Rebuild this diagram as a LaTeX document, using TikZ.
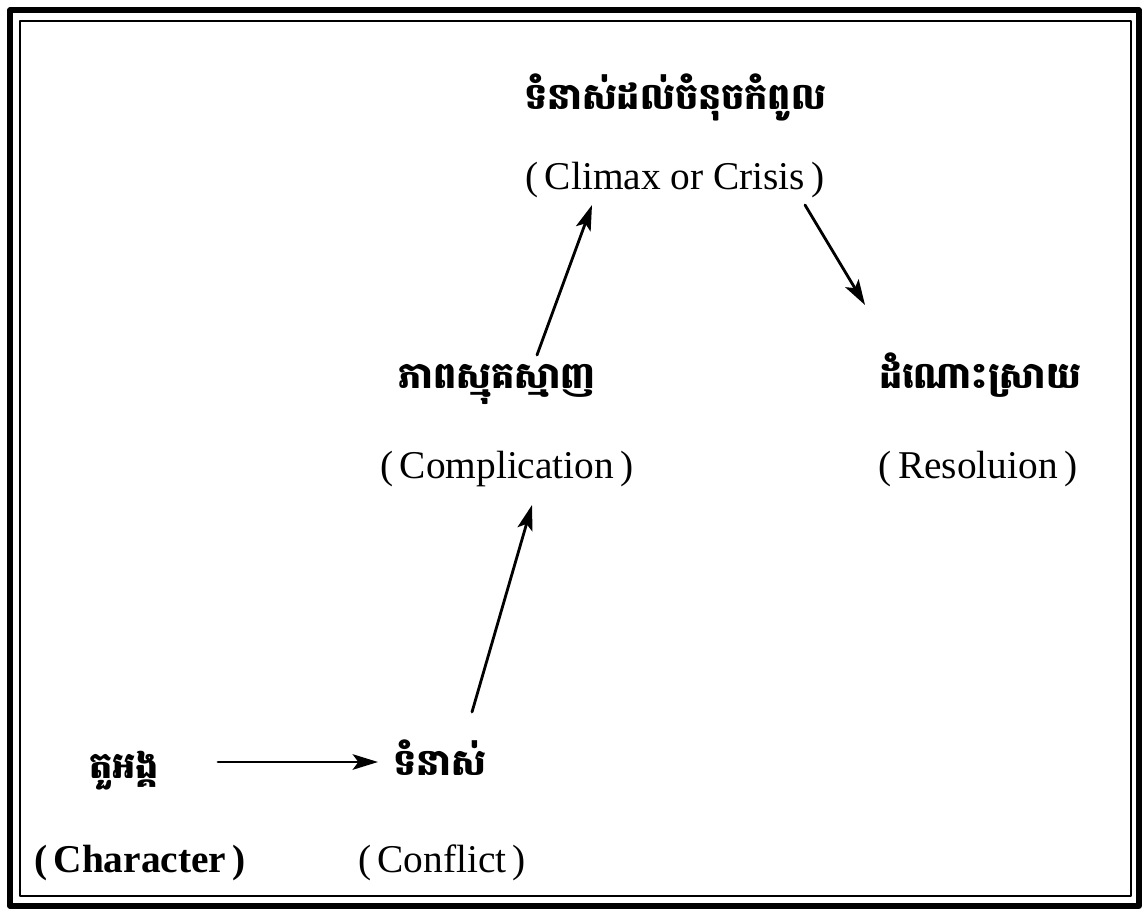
\documentclass[tikz,border=0pt]{standalone}
\usepackage{fontspec}
\setmainfont{Liberation Serif}
\newfontfamily\khmerfont[Script=Khmer]{Battambang}
\usetikzlibrary{arrows.meta}
\newcommand{\paren}[1]{\kern-.1em(\kern.16em#1\kern.16em)\kern-.1em}
\begin{document}
\begin{tikzpicture}[x=0.025cm,y=-0.025cm,line join=round,line cap=round,
	kh/.style={font=\khmerfont\bfseries\fontsize{26}{30}\selectfont,anchor=base},
	en/.style={font=\fontsize{28}{32}\selectfont,anchor=base},
	arr/.style={line width=2pt,-{Stealth[length=18pt,width=11pt,inset=4pt]}}]
		%khung doi
		\useasboundingbox (0,0) rectangle (1142,912);
		\draw[line width=3.6pt](10,10)rectangle(1139,906);
		\draw[line width=1.4pt](20,21)rectangle(1131,896);
		\node[kh](climaxkh) at (675,110){ទំនាស់ដល់ចំនុចកំពូល};
		\node[en](climaxen) at (675,190){\paren{Climax or Crisis}};
		\node[kh](compkh) at (497,388){ភាពស្មុគស្មាញ};
		\node[en](compen) at (507,478){\paren{Complication}};
		\node[kh](reskh) at (980,388){ដំណោះស្រាយ};
		\node[en](resen) at (978,478){\paren{Resoluion}};
		\node[kh](charkh) at (124,778){តួអង្គ};
		\node[en,font=\bfseries\fontsize{28}{32}\selectfont](charen) at (140,872){\paren{Character}};
		\node[kh](confkh) at (440,775){ទំនាស់};
		\node[en](confen) at (442,872){\paren{Conflict}};
		\coordinate (chr) at (218,762);
		\coordinate (cnf) at (378,762);
		\coordinate (cnfup) at (472,712);
		\coordinate (cmpdn) at (532,505);
		\coordinate (cmpup) at (537,355);
		\coordinate (clmdn) at (592,205);
		\coordinate (clmrt) at (805,205);
		\coordinate (resup) at (865,305);
		\foreach \a/\b in {chr/cnf,cnfup/cmpdn,cmpup/clmdn,clmrt/resup}
		\draw[arr](\a)--(\b);
\end{tikzpicture}
\end{document}
